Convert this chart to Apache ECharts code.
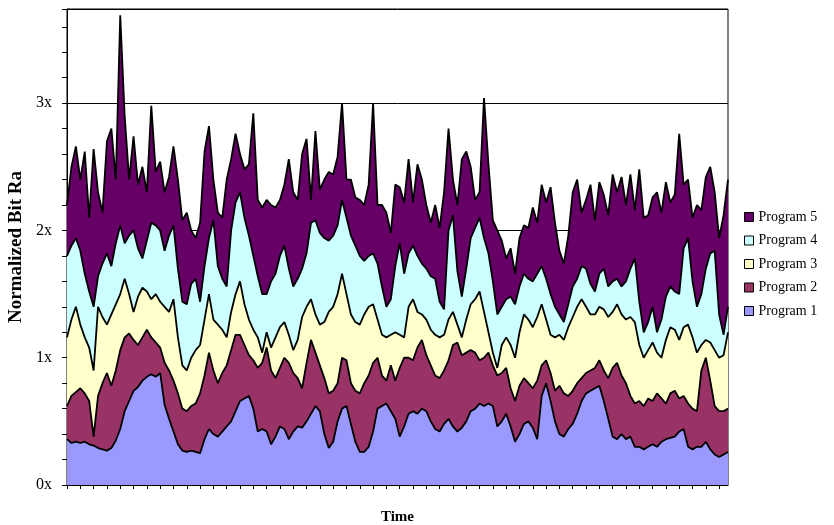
<!DOCTYPE html>
<html>
<head>
<meta charset="utf-8">
<script src="https://cdn.jsdelivr.net/npm/echarts@6/dist/echarts.min.js"></script>
<style>html,body{margin:0;padding:0;background:#fff}#c{width:834px;height:525px}</style>
</head>
<body>
<div id="c"></div>
<script>
// Per-sample (time slot) normalized bit rates of each program, stacked in the chart
const program1 = [
.36,.33,.34,.33,.34,.32,.31,.29,.28,.27,
.29,.35,.44,.58,.66,.74,.77,.82,.85,.87,
.85,.88,.63,.52,.42,.32,.27,.26,.27,.26,
.25,.36,.44,.40,.38,.42,.46,.50,.58,.66,
.68,.70,.60,.42,.44,.42,.32,.38,.46,.44,
.36,.42,.46,.45,.50,.56,.62,.58,.40,.29,
.34,.50,.60,.62,.48,.34,.26,.26,.30,.42,
.60,.62,.64,.58,.52,.38,.46,.56,.58,.56,
.60,.58,.50,.44,.42,.48,.52,.46,.42,.45,
.50,.58,.60,.64,.62,.64,.62,.46,.50,.56,
.46,.34,.40,.48,.50,.45,.36,.70,.80,.66,
.50,.40,.38,.44,.48,.56,.66,.72,.74,.76,
.78,.66,.52,.38,.36,.40,.36,.38,.30,.30,
.28,.30,.32,.30,.34,.36,.37,.38,.42,.44,
.30,.28,.30,.30,.34,.28,.24,.22,.24,.26];
const program2 = [
.26,.37,.39,.43,.38,.34,.07,.41,.52,.61,
.49,.55,.62,.58,.53,.40,.33,.34,.37,.29,
.27,.20,.33,.38,.40,.40,.33,.32,.35,.38,
.47,.50,.60,.50,.42,.46,.48,.56,.60,.52,
.42,.32,.38,.50,.52,.66,.58,.46,.46,.56,
.60,.46,.38,.31,.46,.58,.42,.36,.44,.43,
.40,.30,.40,.36,.32,.40,.46,.54,.56,.54,
.40,.24,.18,.36,.30,.54,.54,.44,.40,.52,
.54,.44,.44,.42,.42,.42,.46,.64,.70,.57,
.54,.48,.44,.34,.38,.40,.32,.40,.38,.36,
.30,.32,.38,.36,.30,.31,.46,.24,.18,.22,
.24,.38,.34,.26,.26,.24,.18,.16,.16,.16,
.20,.24,.32,.54,.60,.46,.44,.32,.34,.36,
.34,.38,.34,.42,.34,.28,.35,.36,.26,.26,
.34,.32,.28,.60,.66,.54,.38,.36,.34,.34];
const program3 = [
.54,.60,.67,.50,.44,.42,.52,.70,.52,.38,
.56,.52,.44,.46,.31,.22,.38,.39,.30,.30,
.38,.36,.44,.46,.64,.44,.34,.32,.38,.42,
.38,.44,.46,.40,.46,.34,.22,.30,.32,.42,
.32,.28,.24,.24,.08,.12,.18,.32,.32,.28,
.22,.18,.30,.56,.44,.32,.30,.32,.44,.64,
.66,.70,.66,.52,.54,.54,.54,.54,.54,.46,
.30,.32,.34,.24,.38,.26,.16,.40,.48,.28,
.20,.28,.28,.32,.32,.28,.32,.26,.14,.14,
.26,.36,.42,.54,.36,.16,.10,.06,.22,.24,
.34,.34,.42,.50,.50,.48,.50,.48,.32,.30,
.42,.40,.42,.54,.58,.60,.62,.52,.44,.42,
.42,.48,.48,.44,.46,.48,.50,.62,.64,.44,
.38,.38,.46,.32,.32,.50,.52,.48,.46,.54,
.62,.56,.46,.20,.14,.30,.44,.42,.44,.60];
const program4 = [
.64,.58,.54,.58,.50,.44,.50,.24,.42,.56,
.38,.48,.54,.28,.46,.64,.38,.23,.40,.60,
.54,.56,.44,.60,.58,.54,.50,.52,.58,.56,
.34,.42,.44,.78,.46,.40,.40,.64,.72,.70,
.68,.66,.58,.48,.46,.30,.52,.50,.56,.60,
.52,.50,.48,.38,.42,.60,.74,.72,.66,.56,
.56,.54,.58,.60,.62,.60,.54,.42,.40,.40,
.44,.38,.24,.28,.52,.72,.50,.42,.42,.44,
.40,.40,.42,.44,.28,.20,.70,.76,.42,.32,
.40,.52,.56,.58,.58,.62,.56,.42,.30,.30,
.38,.42,.36,.32,.32,.36,.34,.30,.32,.32,
.24,.16,.14,.18,.24,.22,.26,.30,.24,.18,
.26,.32,.24,.24,.20,.22,.30,.38,.50,.34,
.20,.22,.28,.16,.30,.34,.32,.30,.36,.62,
.68,.44,.36,.40,.56,.70,.78,.34,.16,.20];
const program5 = [
.40,.62,.72,.56,.96,.58,1.24,.66,.40,.88,
1.08,.50,1.65,1.00,.44,.74,.50,.72,.38,.92,
.42,.54,.46,.46,.62,.70,.64,.72,.42,.32,
.62,.90,.88,.32,.42,.48,.84,.56,.54,.30,
.38,.56,1.12,.60,.68,.74,.60,.52,.44,.48,
.86,.74,.62,.90,.90,.18,.70,.34,.46,.54,
.48,.54,.76,.30,.44,.38,.44,.44,.56,1.18,
.46,.64,.74,.52,.64,.44,.56,.74,.34,.72,
.66,.50,.42,.58,.58,.92,.80,.28,.52,1.08,
.92,.56,.22,.20,1.10,.70,.48,.66,.52,.32,
.38,.24,.38,.38,.40,.58,.40,.64,.60,.84,
.66,.50,.46,.54,.74,.78,.42,.54,.78,.56,
.72,.58,.56,.84,.68,.86,.60,.74,.38,1.04,
.90,.84,.86,1.10,.84,.90,.66,.76,1.26,.50,
.46,.50,.80,.66,.72,.68,.46,.60,.94,1.00];
const timeSlots = program1.map((_, i) => String(i + 1));
const seriesNames = ['Program 1', 'Program 2', 'Program 3', 'Program 4', 'Program 5'];
const seriesColors = ['#9999FF', '#993366', '#FFFFCC', '#CCFFFF', '#660066'];
const seriesValues = [program1, program2, program3, program4, program5];
const yTickLabels = {0: '0x', 1: '1x', 2: '2x', 3: '3x'};

const FONT = '"Liberation Serif", "Times New Roman", serif';
const chart = echarts.init(document.getElementById('c'), null, {renderer: 'canvas'});
chart.setOption({
  animation: false,
  backgroundColor: '#fff',
  grid: {left: 67, right: 106, top: 9, bottom: 40, outerBoundsMode: 'none', containLabel: false,
         show: true, borderColor: '#000', borderWidth: 1, backgroundColor: 'transparent'},
  legend: {
    orient: 'vertical', left: 744, top: 210, padding: 0, itemGap: 9.5, itemWidth: 9, itemHeight: 9,
    icon: 'rect', data: seriesNames.slice().reverse(),
    itemStyle: {borderColor: '#000', borderWidth: 1},
    textStyle: {fontFamily: FONT, fontSize: 14, color: '#000'},
    selectedMode: false
  },
  xAxis: {
    type: 'category', data: timeSlots, boundaryGap: false,
    name: 'Time', nameLocation: 'middle', nameGap: 25,
    nameTextStyle: {fontFamily: FONT, fontSize: 15, fontWeight: 'bold', color: '#000'},
    axisLine: {lineStyle: {color: '#000', width: 1}},
    axisTick: {show: true, interval: 2, length: 4, lineStyle: {color: '#000'}},
    axisLabel: {show: false},
    splitLine: {show: false}
  },
  yAxis: [{
    type: 'value', min: 0, max: 3.74, interval: 0.2,
    name: 'Normalized Bit Ra', nameLocation: 'middle', nameGap: 37, nameRotate: 90,
    nameTextStyle: {fontFamily: FONT, fontSize: 19, fontWeight: 'bold', color: '#000'},
    axisLine: {show: true, lineStyle: {color: '#000', width: 1}},
    axisTick: {show: true, length: 5, lineStyle: {color: '#000'}},
    axisLabel: {
      fontFamily: FONT, fontSize: 16, color: '#000', margin: 15,
      formatter: v => { const r = Math.round(v); return Math.abs(v - r) < 1e-6 && yTickLabels[r] !== undefined ? yTickLabels[r] : ''; }
    },
    splitLine: {show: false}
  }, {
    type: 'value', min: 0, max: 3.74, interval: 1, position: 'left',
    axisLine: {show: false}, axisTick: {show: false}, axisLabel: {show: false},
    splitLine: {show: true, lineStyle: {color: '#000', width: 1}}
  }],
  series: seriesValues.map((vals, k) => ({
    name: seriesNames[k], type: 'line', stack: 'total', data: vals,
    yAxisIndex: 0, symbol: 'none', smooth: false,
    lineStyle: {color: '#000', width: 1.8},
    itemStyle: {color: seriesColors[k]},
    areaStyle: {color: seriesColors[k], opacity: 1},
    emphasis: {disabled: true}
  }))
});
</script>
</body>
</html>
